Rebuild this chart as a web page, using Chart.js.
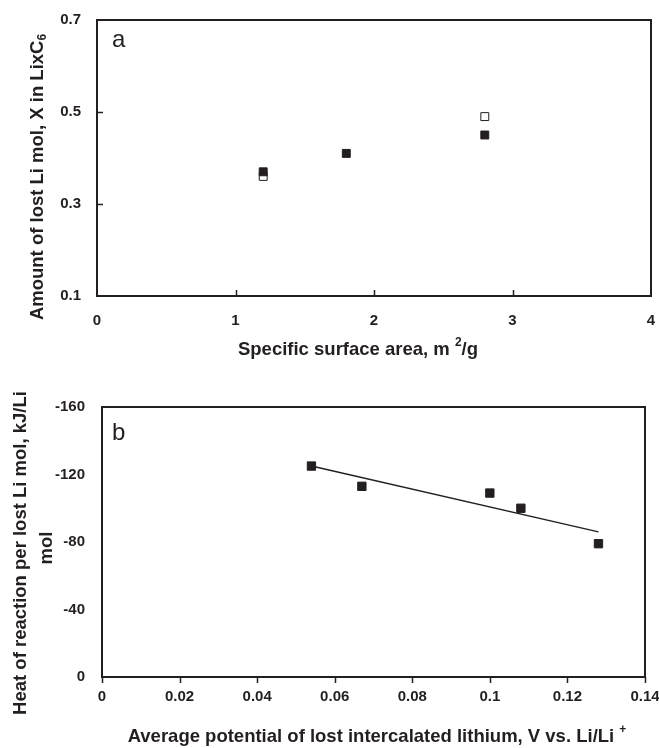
<!DOCTYPE html>
<html><head><meta charset="utf-8">
<script src="https://cdn.jsdelivr.net/npm/chart.js@4/dist/chart.umd.min.js"></script>
<style>
html,body{margin:0;padding:0;background:#fff;}
#wrap{position:relative;width:659px;height:748px;overflow:hidden;}
#c1{position:absolute;left:0;top:0;}
#c2{position:absolute;left:0;top:372px;}
</style></head><body>
<div id="wrap"><canvas id="c1" width="659" height="372"></canvas><canvas id="c2" width="659" height="376"></canvas></div>
<script>
// ---- Panel a data ----
const surfaceAreaFilled = [1.2, 1.8, 2.8];
const lostLiFilled = [0.37, 0.41, 0.45];
const surfaceAreaOpen = [1.2, 2.8];
const lostLiOpen = [0.36, 0.49];
const xTicksA = [0, 1, 2, 3, 4];
const xTickLabelsA = ['0', '1', '2', '3', '4'];
const yTicksA = [0.1, 0.3, 0.5, 0.7];
const yTickLabelsA = ['0.1', '0.3', '0.5', '0.7'];

// ---- Panel b data ----
const avgPotential = [0.054, 0.067, 0.100, 0.108, 0.128];
const heatOfReaction = [-125, -113, -109, -100, -79];
const trendPotential = [0.054, 0.128];
const trendHeat = [-125, -86];
const xTicksB = [0, 0.02, 0.04, 0.06, 0.08, 0.1, 0.12, 0.14];
const xTickLabelsB = ['0', '0.02', '0.04', '0.06', '0.08', '0.1', '0.12', '0.14'];
const yTicksB = [-160, -120, -80, -40, 0];
const yTickLabelsB = ['-160', '-120', '-80', '-40', '0'];

const INK = '#231f20';
const FAMILY = '"Liberation Sans", Arial, Helvetica, sans-serif';
Chart.defaults.font.family = FAMILY;
Chart.defaults.color = INK;

function drawRich(ctx, segs, cx, cy, rotate) {
  ctx.save();
  ctx.translate(cx, cy);
  if (rotate) ctx.rotate(-Math.PI / 2);
  let total = 0;
  segs.forEach(s => { ctx.font = 'bold ' + s.size + 'px ' + FAMILY; s.w = ctx.measureText(s.t).width; total += s.w; });
  let x = -total / 2;
  ctx.textBaseline = 'middle';
  ctx.textAlign = 'left';
  ctx.fillStyle = INK;
  segs.forEach(s => { ctx.font = 'bold ' + s.size + 'px ' + FAMILY; ctx.fillText(s.t, x, s.dy || 0); x += s.w; });
  ctx.restore();
}

const framePlugin = {
  id: 'frame',
  afterDraw(chart, args, o) {
    const {ctx, chartArea: a, scales} = chart;
    ctx.save();
    ctx.strokeStyle = INK;
    ctx.lineWidth = 1.5;
    (o.xMarks || []).forEach(v => {
      const px = Math.round(scales.x.getPixelForValue(v)) + 0.5;
      ctx.beginPath(); ctx.moveTo(px, a.bottom); ctx.lineTo(px, a.bottom + o.xMarkLen); ctx.stroke();
    });
    (o.yMarks || []).forEach(v => {
      const py = Math.round(scales.y.getPixelForValue(v)) + 0.5;
      ctx.beginPath(); ctx.moveTo(a.left, py); ctx.lineTo(a.left + o.yMarkLen, py); ctx.stroke();
    });
    ctx.lineWidth = 2;
    ctx.strokeRect(a.left, a.top, a.right - a.left, a.bottom - a.top);
    ctx.fillStyle = INK;
    ctx.font = o.letterSize + 'px ' + FAMILY;
    ctx.textBaseline = 'alphabetic';
    ctx.textAlign = 'left';
    ctx.fillText(o.letter, o.letterX, o.letterY);
    o.titles.forEach(t => drawRich(ctx, t.segs, t.x, t.y, t.rotate));
    ctx.restore();
  }
};

function fixedAxis(size, horizontal) {
  return function (scale) {
    if (horizontal) scale.height = size; else scale.width = size;
    scale.paddingLeft = 0; scale.paddingRight = 0; scale.paddingTop = 0; scale.paddingBottom = 0;
  };
}
function setTicks(values) {
  return function (scale) { scale.ticks = values.map(v => ({value: v})); };
}
const tickFont = {family: FAMILY, size: 15, weight: 'bold'};

// ---------- Chart a ----------
new Chart(document.getElementById('c1'), {
  type: 'scatter',
  data: {
    datasets: [
      {
        label: 'filled',
        data: surfaceAreaFilled.map((x, i) => ({x: x, y: lostLiFilled[i]})),
        pointStyle: 'rect', pointRadius: 5.6, pointHoverRadius: 5.6,
        backgroundColor: INK, borderColor: INK, borderWidth: 1
      },
      {
        label: 'open',
        data: surfaceAreaOpen.map((x, i) => ({x: x, y: lostLiOpen[i]})),
        pointStyle: 'rect', pointRadius: 5.6, pointHoverRadius: 5.6,
        backgroundColor: '#ffffff', borderColor: INK, borderWidth: 1
      }
    ]
  },
  options: {
    responsive: false, animation: false,
    layout: {padding: {left: 0, top: 20, right: 8, bottom: 0}},
    plugins: {
      legend: {display: false}, tooltip: {enabled: false},
      frame: {
        xMarks: [1, 2, 3], xMarkLen: -6, yMarks: [0.3, 0.5], yMarkLen: 6,
        letter: 'a', letterSize: 24, letterX: 112, letterY: 47,
        titles: [
          {x: 358, y: 350, rotate: false, segs: [{t: 'Specific surface area, m ', size: 18.5}, {t: '2', size: 12, dy: -7}, {t: '/g', size: 18.5}]},
          {x: 38, y: 177, rotate: true, segs: [{t: 'Amount of lost Li mol, X in LixC', size: 18.5}, {t: '6', size: 12, dy: 5}]}
        ]
      }
    },
    scales: {
      x: {
        type: 'linear', min: 0, max: 4,
        afterBuildTicks: setTicks(xTicksA), afterFit: fixedAxis(76, true),
        grid: {display: false, drawTicks: false}, border: {display: false},
        ticks: {font: tickFont, color: INK, padding: 16, maxRotation: 0, autoSkip: false,
          callback: (v, i) => xTickLabelsA[i]}
      },
      y: {
        type: 'linear', min: 0.1, max: 0.7,
        afterBuildTicks: setTicks(yTicksA), afterFit: fixedAxis(97, false),
        grid: {display: false, drawTicks: false}, border: {display: false},
        ticks: {font: tickFont, color: INK, padding: 16, autoSkip: false,
          callback: (v, i) => yTickLabelsA[i]}
      }
    }
  },
  plugins: [framePlugin]
});

// ---------- Chart b ----------
new Chart(document.getElementById('c2'), {
  type: 'scatter',
  data: {
    datasets: [
      {
        label: 'data',
        data: avgPotential.map((x, i) => ({x: x, y: heatOfReaction[i]})),
        pointStyle: 'rect', pointRadius: 5.9, pointHoverRadius: 5.9,
        backgroundColor: INK, borderColor: INK, borderWidth: 1
      },
      {
        label: 'trend', type: 'line',
        data: trendPotential.map((x, i) => ({x: x, y: trendHeat[i]})),
        showLine: true, pointRadius: 0, borderColor: INK, borderWidth: 1.5, fill: false
      }
    ]
  },
  options: {
    responsive: false, animation: false,
    layout: {padding: {left: 0, top: 35, right: 14, bottom: 0}},
    plugins: {
      legend: {display: false}, tooltip: {enabled: false},
      frame: {
        xMarks: xTicksB, xMarkLen: 6, yMarks: [], yMarkLen: 0,
        letter: 'b', letterSize: 24, letterX: 112, letterY: 68,
        titles: [
          {x: 377, y: 365, rotate: false, segs: [{t: 'Average potential of lost intercalated lithium, V vs. Li/Li ', size: 18.5}, {t: '+', size: 12, dy: -7}]},
          {x: 21, y: 181, rotate: true, segs: [{t: 'Heat of reaction per lost Li mol, kJ/Li', size: 18.5}]},
          {x: 47, y: 176, rotate: true, segs: [{t: 'mol', size: 18.5}]}
        ]
      }
    },
    scales: {
      x: {
        type: 'linear', min: 0, max: 0.14,
        afterBuildTicks: setTicks(xTicksB), afterFit: fixedAxis(71, true),
        grid: {display: false, drawTicks: false}, border: {display: false},
        ticks: {font: tickFont, color: INK, padding: 11, maxRotation: 0, autoSkip: false,
          callback: (v, i) => xTickLabelsB[i]}
      },
      y: {
        type: 'linear', min: -160, max: 0, reverse: true,
        afterBuildTicks: setTicks(yTicksB), afterFit: fixedAxis(102, false),
        grid: {display: false, drawTicks: false}, border: {display: false},
        ticks: {font: tickFont, color: INK, padding: 17, autoSkip: false,
          callback: (v, i) => yTickLabelsB[i]}
      }
    }
  },
  plugins: [framePlugin]
});
</script>
</body></html>
